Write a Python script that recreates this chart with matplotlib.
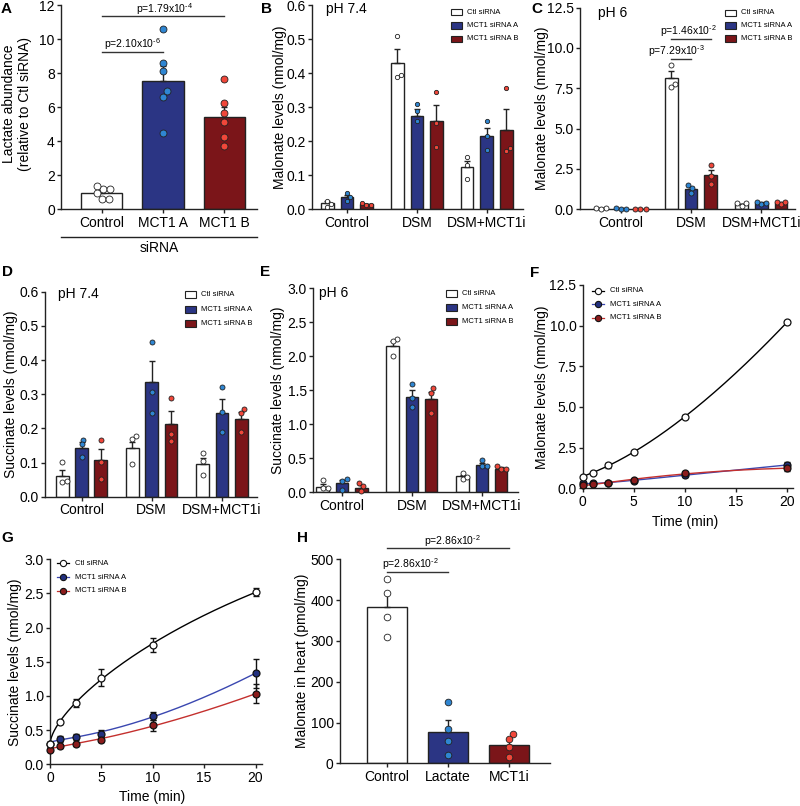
import numpy as np
import matplotlib
matplotlib.use('Agg')
import matplotlib.pyplot as plt
from matplotlib.patches import Rectangle
from matplotlib.lines import Line2D

plt.rcParams['font.family'] = ['Liberation Sans', 'DejaVu Sans']
plt.rcParams['mathtext.default'] = 'regular'

HY = '\u2010'

# ---------------- DATA ----------------
# Panel A
a_groups = ['Control', 'MCT1 A', 'MCT1 B']
a_means = [0.98, 7.55, 5.40]
a_sem = [0.13, 0.86, 0.59]
a_points = [[1.17, 1.37, 1.17, 0.61, 0.94, 0.61],
            [10.59, 8.61, 8.14, 6.97, 6.61, 4.50],
            [7.63, 6.22, 5.68, 5.15, 4.27, 3.74]]
a_pvals = ['p=1.79x10$^{' + HY + '4}$', 'p=2.10x10$^{' + HY + '6}$']

conditions = ['Control', 'DSM', 'DSM+MCT1i']
series = ['Ctl siRNA', 'MCT1 siRNA A', 'MCT1 siRNA B']

# Panel B (malonate, pH 7.4) : [series][condition]
b_means = [[0.018, 0.430, 0.123], [0.035, 0.275, 0.215], [0.015, 0.258, 0.234]]
b_sem = [[0.005, 0.040, 0.020], [0.007, 0.020, 0.025], [0.002, 0.048, 0.062]]
b_points = [[[0.024, 0.008, 0.017], [0.51, 0.39, 0.394], [0.155, 0.13, 0.089]],
            [[0.047, 0.025, 0.035], [0.31, 0.29, 0.26], [0.26, 0.215, 0.174]],
            [[0.013, 0.018, 0.013], [0.344, 0.252, 0.182], [0.355, 0.172, 0.179]]]

# Panel C (malonate, pH 6)
c_means = [[0.05, 8.16, 0.30], [0.04, 1.26, 0.40], [0.03, 2.10, 0.41]]
c_sem = [[0.01, 0.40, 0.05], [0.01, 0.15, 0.04], [0.01, 0.35, 0.05]]
c_points = [[[0.05, 0.06, 0.04], [8.93, 7.79, 7.55], [0.20, 0.37, 0.37]],
            [[0.04, 0.05, 0.04], [1.50, 1.30, 0.99], [0.33, 0.47, 0.41]],
            [[0.03, 0.03, 0.04], [2.76, 2.08, 1.55], [0.30, 0.47, 0.47]]]
c_pvals = ['p=1.46x10$^{' + HY + '2}$', 'p=7.29x10$^{' + HY + '3}$']

# Panel D (succinate, pH 7.4)
d_means = [[0.061, 0.143, 0.095], [0.144, 0.335, 0.246], [0.106, 0.212, 0.227]]
d_sem = [[0.018, 0.018, 0.019], [0.015, 0.062, 0.040], [0.033, 0.039, 0.020]]
d_points = [[[0.101, 0.043, 0.047], [0.178, 0.168, 0.095], [0.127, 0.105, 0.063]],
            [[0.167, 0.153, 0.116], [0.454, 0.307, 0.244], [0.320, 0.249, 0.190]],
            [[0.165, 0.101, 0.052], [0.290, 0.183, 0.164], [0.256, 0.244, 0.190]]]

# Panel E (succinate, pH 6)
e_means = [[0.083, 2.15, 0.24], [0.13, 1.40, 0.40], [0.07, 1.37, 0.35]]
e_sem = [[0.04, 0.08, 0.02], [0.05, 0.10, 0.03], [0.035, 0.11, 0.015]]
e_points = [[[0.18, 0.06, 0.06], [2.26, 2.23, 2.01], [0.28, 0.20, 0.23]],
            [[0.20, 0.17, 0.04], [1.59, 1.38, 1.25], [0.39, 0.48, 0.39]],
            [[0.14, 0.09, 0.02], [1.53, 1.46, 1.17], [0.34, 0.38, 0.34]]]

# Panels F, G (time courses)
times = [0, 1, 2.5, 5, 10, 20]
f_ctl = [0.68, 0.96, 1.41, 2.21, 4.41, 10.20]
f_ctl_err = [0.05, 0.05, 0.15, 0.10, 0.10, 0.10]
f_a = [0.35, 0.31, 0.35, 0.47, 0.82, 1.43]
f_a_err = [0.03, 0.03, 0.03, 0.05, 0.10, 0.20]
f_b = [0.20, 0.27, 0.35, 0.51, 0.92, 1.23]
f_b_err = [0.03, 0.03, 0.03, 0.05, 0.08, 0.15]

g_ctl = [0.29, 0.62, 0.90, 1.27, 1.75, 2.52]
g_ctl_err = [0.03, 0.03, 0.06, 0.12, 0.10, 0.06]
g_a = [0.30, 0.37, 0.40, 0.45, 0.71, 1.33]
g_a_err = [0.02, 0.05, 0.04, 0.05, 0.06, 0.21]
g_b = [0.21, 0.27, 0.30, 0.36, 0.57, 1.03]
g_b_err = [0.02, 0.03, 0.03, 0.03, 0.08, 0.14]

# Panel H
h_groups = ['Control', 'Lactate', 'MCT1i']
h_means = [382, 77, 44]
h_sem = [35, 28, 15]
h_points = [[451, 417, 358, 310], [150, 83, 55, 20], [72, 59, 39, 16]]
h_pvals = ['p=2.86x10$^{' + HY + '2}$', 'p=2.86x10$^{' + HY + '2}$']

# ---------------- STYLE ----------------
W, H = 800, 806
fig = plt.figure(figsize=(W / 100, H / 100), dpi=100)
fig.patch.set_facecolor('white')

NAVY = '#2b3584'
DRED = '#7b1519'
BLUE_DOT = '#2f86d2'
RED_DOT = '#f0473a'
EDGE = '#222222'
bar_colors = ['white', NAVY, DRED]
dot_colors = ['white', BLUE_DOT, RED_DOT]


def rect(l, t, r, b):
    return [l / W, 1 - b / H, (r - l) / W, (b - t) / H]


def fx(x):
    return x / W


def fy(y):
    return 1 - y / H


def style_axes(ax):
    for s in ['top', 'right']:
        ax.spines[s].set_visible(False)
    for s in ['left', 'bottom']:
        ax.spines[s].set_linewidth(1.0)
        ax.spines[s].set_color(EDGE)
    ax.tick_params(direction='out', length=3, width=1.0, labelsize=10,
                   pad=1.5, color=EDGE)
    ax.patch.set_alpha(0)


def swarm(ax, x0, vals, ms_pt):
    d = ms_pt * fig.dpi / 72.0 * 1.02
    tr = ax.transData
    ys = [tr.transform((x0, v))[1] for v in vals]
    ppu = tr.transform((1, 0))[0] - tr.transform((0, 0))[0]
    order = np.argsort(ys)
    placed = []
    offs = np.zeros(len(vals))
    for i in order:
        y = ys[i]
        cands = [0.0]
        for (px, py) in placed:
            dy = abs(py - y)
            if dy < d:
                dx = np.sqrt(d * d - dy * dy)
                cands += [px + dx, px - dx]
        cands = sorted(cands, key=lambda c: (abs(c), -c))
        for c in cands:
            ok = True
            for (px, py) in placed:
                if (px - c) ** 2 + (py - y) ** 2 < d * d - 1e-6:
                    ok = False
                    break
            if ok:
                break
        placed.append((c, y))
        offs[i] = c / ppu
    return offs


def draw_bar(ax, x, mean, sem, vals, width, bc, dc, ms):
    ax.bar(x, mean, width, color=bc, edgecolor=EDGE, linewidth=1.0, zorder=2)
    ax.errorbar(x, mean, yerr=[[0], [sem]], fmt='none', ecolor=EDGE,
                elinewidth=1.0, capsize=2.2, capthick=1.0, zorder=3)
    offs = swarm(ax, x, vals, ms)
    ax.plot(np.array([x] * len(vals)) + offs, vals, 'o', ms=ms, mfc=dc,
            mec=EDGE, mew=0.6, zorder=4, clip_on=False)


def grouped_panel(rect_px, xlim, ylim, yticks, fmt, means, sems, points,
                  off, width, ms):
    ax = fig.add_axes(rect(*rect_px))
    style_axes(ax)
    ax.set_xlim(*xlim)
    ax.set_ylim(*ylim)
    ax.set_yticks(yticks)
    ax.set_yticklabels([fmt.format(v) for v in yticks])
    ax.set_xticks(range(len(conditions)))
    ax.set_xticklabels(conditions)
    for si in range(3):
        for ci in range(3):
            x = ci + (si - 1) * off
            draw_bar(ax, x, means[si][ci], sems[si][ci], points[si][ci],
                     width, bar_colors[si], dot_colors[si], ms)
    return ax


def bar_legend(x_px, rows):
    for y, lab, c in zip(rows, series, bar_colors):
        fig.add_artist(Rectangle((fx(x_px), fy(y + 3.3)), 11 / W, 6.6 / H,
                                 transform=fig.transFigure, facecolor=c,
                                 edgecolor=EDGE, lw=0.8))
        fig.text(fx(x_px + 16), fy(y), lab, fontsize=5.5, va='center',
                 ha='left')


def line_legend(cx, tx, rows, lcols, mfcs):
    for y, lab, lc, mf in zip(rows, series, lcols, mfcs):
        fig.add_artist(Line2D([fx(cx - 6), fx(cx + 6)], [fy(y), fy(y)],
                              color=lc, lw=0.9, transform=fig.transFigure))
        fig.add_artist(Line2D([fx(cx)], [fy(y)], marker='o', ms=4.5,
                              mfc=mf, mec='#111111', mew=0.8, ls='none',
                              transform=fig.transFigure))
        fig.text(fx(tx), fy(y), lab, fontsize=5.5, va='center', ha='left')


def ylabel(x_px, y_px, s):
    fig.text(fx(x_px), fy(y_px), s, rotation=90, ha='center', va='center',
             fontsize=10, linespacing=1.15)


def letter(x_px, y_px, s):
    fig.text(fx(x_px), fy(y_px), s, fontsize=11, fontweight='bold',
             ha='left', va='center')


def pbracket(ax, x0, x1, y, label, lx, ly):
    ax.plot([x0, x1], [y, y], color='#333333', lw=1.0, clip_on=False)
    ax.text(lx, ly, label, fontsize=7.5, ha='center', va='baseline',
            clip_on=False)


# ---------------- Panel A ----------------
axA = fig.add_axes(rect(61, 5, 257, 209.3))
style_axes(axA)
axA.set_xlim(-0.66, 2.53)
axA.set_ylim(0, 12)
axA.set_yticks(range(0, 13, 2))
axA.set_xticks(range(3))
axA.set_xticklabels(a_groups)
for i in range(3):
    draw_bar(axA, i, a_means[i], a_sem[i], a_points[i], 0.67,
             bar_colors[i], dot_colors[i], 5.0)
pbracket(axA, 0, 2, 11.35, a_pvals[0], 1.03, 11.55)
pbracket(axA, 0, 1, 9.25, a_pvals[1], 0.5, 9.45)
fig.add_artist(Line2D([fx(61), fx(257)], [fy(237), fy(237)], color=EDGE,
                      lw=1.0, transform=fig.transFigure))
fig.text(fx(159), fy(248), 'siRNA', fontsize=10, ha='center', va='center')
ylabel(17, 104, 'Lactate abundance\n(relative to Ctl siRNA)')
letter(1, 9, 'A')

# ---------------- Panel B ----------------
axB = grouped_panel((312, 5, 523, 209.3), (-0.5, 2.52), (0, 0.6),
                    np.round(np.arange(0, 0.61, 0.1), 1), '{:.1f}',
                    b_means, b_sem, b_points, 0.28, 0.18, 3.1)
fig.text(fx(326), fy(9), 'pH 7.4', fontsize=10, ha='left', va='center')
bar_legend(451, [12, 25.5, 39])
ylabel(280, 107, 'Malonate levels (nmol/mg)')
letter(261, 9, 'B')

# ---------------- Panel C ----------------
axC = grouped_panel((580, 7.5, 795, 209.3), (-0.58, 2.48), (0, 12.5),
                    np.arange(0, 12.6, 2.5), '{:.1f}',
                    c_means, c_sem, c_points, 0.28, 0.18, 3.6)
pbracket(axC, 1 - 0.28, 1 + 0.28, 10.55, c_pvals[0], 0.96, 10.77)
pbracket(axC, 1 - 0.28, 1.0, 9.31, c_pvals[1], 0.80, 9.53)
fig.text(fx(598), fy(13.3), 'pH 6', fontsize=10, ha='left', va='center')
bar_legend(725, [13, 25.5, 38.3])
ylabel(542, 108, 'Malonate levels (nmol/mg)')
letter(531, 9, 'C')

# ---------------- Panel D ----------------
axD = grouped_panel((45, 291.7, 257, 496.7), (-0.52, 2.5), (0, 0.6),
                    np.round(np.arange(0, 0.61, 0.1), 1), '{:.1f}',
                    d_means, d_sem, d_points, 0.275, 0.18, 3.6)
fig.text(fx(58), fy(294), 'pH 7.4', fontsize=10, ha='left', va='center')
bar_legend(185, [294.3, 309.3, 323.3])
ylabel(11, 394, 'Succinate levels (nmol/mg)')
letter(2, 272, 'D')

# ---------------- Panel E ----------------
axE = grouped_panel((313.3, 288.3, 518.3, 492.3), (-0.41, 2.52), (0, 3.0),
                    np.arange(0, 3.01, 0.5), '{:.1f}',
                    e_means, e_sem, e_points, 0.275, 0.18, 3.6)
fig.text(fx(319), fy(293), 'pH 6', fontsize=10, ha='left', va='center')
bar_legend(445.7, [293.3, 307.7, 321.7])
ylabel(278, 390, 'Succinate levels (nmol/mg)')
letter(260, 272, 'E')


# ---------------- Panels F, G ----------------
def time_panel(rect_px, ylim, yticks, groups):
    ax = fig.add_axes(rect(*rect_px))
    style_axes(ax)
    ax.set_xlim(0, 20.6)
    ax.set_ylim(*ylim)
    ax.set_yticks(yticks)
    ax.set_yticklabels(['{:.1f}'.format(v) for v in yticks])
    ax.set_xticks([0, 5, 10, 15, 20])
    xs = np.linspace(0, 20, 300)
    s = np.sqrt(np.array(times, dtype=float))
    for vals, errs, lc, mf in groups:
        coef = np.polyfit(s, vals, 3)
        ax.plot(xs, np.polyval(coef, np.sqrt(xs)), color=lc, lw=1.0,
                zorder=2, clip_on=False)
        ax.errorbar(times, vals, yerr=errs, fmt='none', ecolor='#111111',
                    elinewidth=1.0, capsize=2.0, capthick=1.0, zorder=3,
                    clip_on=False)
        ax.plot(times, vals, 'o', ms=5, mfc=mf, mec='#111111', mew=0.9,
                zorder=4, clip_on=False)
    return ax


LBLUE = '#3a47b0'
LRED = '#c4302e'
MBLUE = '#22307f'
MRED = '#8c1c1c'

axF = time_panel((582.7, 285, 793, 488.3), (0, 12.5), np.arange(0, 12.6, 2.5),
                 [(f_a, f_a_err, LBLUE, MBLUE), (f_b, f_b_err, LRED, MRED),
                  (f_ctl, f_ctl_err, 'black', 'white')])
line_legend(598.3, 610, [290.7, 304, 317.7], ['black', LBLUE, LRED],
            ['white', MBLUE, MRED])
ylabel(542, 387, 'Malonate levels (nmol/mg)')
fig.text(fx(685), fy(522), 'Time (min)', fontsize=10, ha='center',
         va='center')
letter(530, 273, 'F')

axG = time_panel((50, 559.3, 261.7, 764.3), (0, 3.0), np.arange(0, 3.01, 0.5),
                 [(g_a, g_a_err, LBLUE, MBLUE), (g_b, g_b_err, LRED, MRED),
                  (g_ctl, g_ctl_err, 'black', 'white')])
line_legend(63.3, 75, [563.3, 577.3, 591], ['black', LBLUE, LRED],
            ['white', MBLUE, MRED])
ylabel(15, 662, 'Succinate levels (nmol/mg)')
fig.text(fx(152.5), fy(797), 'Time (min)', fontsize=10, ha='center',
         va='center')
letter(1, 538, 'G')

# ---------------- Panel H ----------------
axH = fig.add_axes(rect(340, 559.3, 550, 763.3))
style_axes(axH)
axH.set_xlim(-0.77, 2.67)
axH.set_ylim(0, 500)
axH.set_yticks(range(0, 501, 100))
axH.set_xticks(range(3))
axH.set_xticklabels(h_groups)
for i in range(3):
    draw_bar(axH, i, h_means[i], h_sem[i], h_points[i], 0.66,
             bar_colors[i], dot_colors[i], 4.8)
pbracket(axH, 0, 2, 527, h_pvals[0], 1.08, 535.5)
pbracket(axH, 0, 1, 470, h_pvals[1], 0.38, 478.5)
ylabel(302, 661, 'Malonate in heart (pmol/mg)')
letter(297, 538, 'H')

fig.savefig('out.png', dpi=100, facecolor='white')
